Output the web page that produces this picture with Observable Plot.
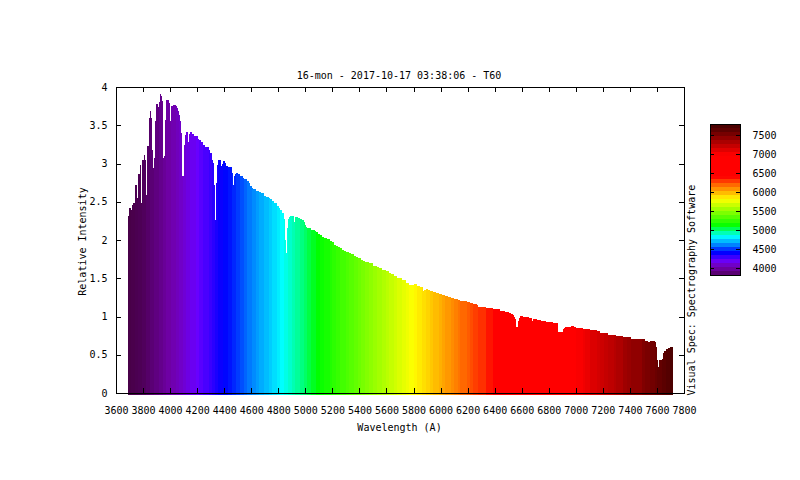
<!DOCTYPE html>
<html>
<head>
<meta charset="utf-8">
<script src="https://cdn.jsdelivr.net/npm/d3@7"></script>
<script src="https://cdn.jsdelivr.net/npm/@observablehq/plot@0.6"></script>
<style>
html,body{margin:0;padding:0;background:#fff;}
#wrap{position:relative;width:800px;height:480px;overflow:hidden;}
#wrap svg{position:absolute;overflow:visible;background:transparent;}
</style>
</head>
<body>
<div id="wrap"></div>
<script>
const titleText = "16-mon - 2017-10-17 03:38:06 - T60";
const xLabel = "Wavelength (A)";
const yLabel = "Relative Intensity";
const sideLabel = "Visual Spec: Spectrography Software";
const xTicks = [3600,3800,4000,4200,4400,4600,4800,5000,5200,5400,5600,5800,6000,6200,6400,6600,6800,7000,7200,7400,7600,7800];
const yTicks = [0,0.5,1,1.5,2,2.5,3,3.5,4];
const barTicks = [4000,4500,5000,5500,6000,6500,7000,7500];
const paletteStops = [3690,3800,4000,4100,4200,4400,4450,4600,4830,5000,5100,5800,6000,6200,6400,7000,7715];
const paletteColors = ["#480048","#4e0058","#7000a8","#7000d0","#6800ff","#0000ff","#0018ff","#0080ff","#00ffff","#00ff70","#00ff00","#ffff00","#ffb000","#ff6000","#ff0000","#ff0000","#4b0000"];

const wavelengths = [
3689,3696,3711,3719,3726,3741,3756,3763,3778,3785,
3793,3807,3815,3822,3829,3844,3852,3859,3866,3874,
3881,3889,3896,3911,3918,3926,3933,3940,3948,3955,
3963,3970,3992,4000,4007,4022,4044,4051,4059,4066,
4074,4081,4088,4096,4103,4110,4118,4133,4140,4148,
4162,4177,4192,4207,4214,4229,4244,4258,4288,4295,
4310,4318,4325,4332,4340,4347,4354,4377,4384,4392,
4406,4414,4429,4458,4466,4473,4480,4488,4503,4517,
4539,4547,4569,4584,4591,4606,4613,4635,4658,4672,
4695,4709,4732,4739,4754,4769,4791,4806,4813,4828,
4843,4850,4857,4865,4872,4880,4887,4902,4917,4924,
4946,4962,4977,4991,4999,5006,5014,5043,5073,5080,
5095,5110,5125,5139,5162,5184,5199,5213,5228,5243,
5258,5273,5287,5302,5324,5339,5361,5376,5391,5413,
5428,5443,5472,5502,5531,5546,5568,5598,5620,5635,
5657,5679,5716,5746,5768,5805,5827,5849,5865,5872,
5880,5894,5909,5924,5946,5968,5990,6013,6035,6057,
6079,6101,6131,6146,6198,6220,6242,6272,6279,6338,
6390,6442,6479,6508,6523,6538,6545,6553,6560,6567,
6575,6582,6590,6612,6656,6678,6686,6715,6745,6782,
6834,6863,6871,6900,6908,6915,6923,6967,6974,6989,
7004,7056,7070,7107,7159,7181,7211,7236,7280,7300,
7351,7381,7411,7490,7514,7536,7546,7588,7596,7603,
7610,7618,7640,7647,7655,7670,7684,7699];
const intensities = [
2.308,2.417,2.395,2.461,2.483,2.723,2.548,2.862,2.984,2.483,
3.05,3.115,3.05,2.592,3.233,3.595,3.691,3.595,3.181,2.941,
3.072,3.552,3.783,3.739,3.8,3.914,3.888,3.813,3.072,3.102,
3.573,3.835,3.792,3.552,3.748,3.77,3.748,3.726,3.682,3.639,
3.552,3.399,2.832,2.84,3.237,3.377,3.408,3.281,3.386,3.408,
3.39,3.364,3.355,3.32,3.303,3.281,3.246,3.211,3.181,3.137,
3.05,3.006,2.723,2.256,2.744,2.984,3.05,2.963,2.998,3.037,
3.006,2.963,2.95,2.875,2.723,2.832,2.867,2.88,2.862,2.84,
2.81,2.797,2.766,2.744,2.71,2.679,2.666,2.635,2.622,2.614,
2.57,2.557,2.548,2.535,2.504,2.483,2.439,2.417,2.395,2.352,
2.275,2.003,1.83,2.155,2.275,2.3,2.32,2.32,2.232,2.3,
2.29,2.273,2.26,2.234,2.2,2.169,2.16,2.13,2.121,2.103,
2.081,2.06,2.038,2.025,2.007,1.981,1.968,1.937,1.924,1.907,
1.889,1.872,1.859,1.837,1.824,1.811,1.793,1.776,1.759,1.741,
1.719,1.706,1.693,1.663,1.65,1.628,1.61,1.593,1.571,1.553,
1.532,1.501,1.475,1.44,1.414,1.423,1.401,1.39,1.383,1.335,
1.348,1.361,1.348,1.335,1.322,1.309,1.30,1.287,1.274,1.257,
1.243,1.23,1.217,1.204,1.191,1.178,1.169,1.152,1.126,1.113,
1.10,1.078,1.065,1.047,1.034,1.017,1.0,0.964,0.864,0.868,
0.947,0.977,1.008,0.995,0.983,0.945,0.968,0.955,0.942,0.929,
0.92,0.912,0.798,0.798,0.842,0.855,0.864,0.872,0.881,0.864,
0.855,0.833,0.842,0.824,0.816,0.785,0.79,0.763,0.755,0.746,
0.737,0.728,0.707,0.707,0.68,0.663,0.676,0.672,0.606,0.432,
0.345,0.432,0.44,0.519,0.554,0.58,0.589,0.602];
const spectrumEnd = 7715;
const colorBand = 30;

const bins = wavelengths.map((w,i)=>{
  const next = i+1<wavelengths.length?wavelengths[i+1]:spectrumEnd;
  return {x1:w,x2:next,y:intensities[i],c:Math.round((w+next)/2/colorBand)*colorBand};
});
const font = "'DejaVu Sans Mono', monospace";
const colorOpts = {type:"linear",domain:paletteStops,range:paletteColors,interpolate:"rgb",clamp:true};
const W = 568, H = 306;

const main = Plot.plot({
  width:800,height:480,
  marginLeft:116,marginRight:116,marginTop:87,marginBottom:87,
  style:{fontFamily:font,fontSize:"10px",color:"#000",background:"transparent"},
  x:{domain:[3600,7800]},
  y:{domain:[0,4]},
  color:colorOpts,
  marks:[
    Plot.rectY(bins,{x1:"x1",x2:"x2",y1:0,y2:"y",fill:"c",insetBottom:-2,shapeRendering:"crispEdges"}),
    Plot.tickX(xTicks,{x:d=>d,insetTop:H-5,stroke:"#000",shapeRendering:"crispEdges"}),
    Plot.tickX(xTicks,{x:d=>d,insetBottom:H-5,stroke:"#000",shapeRendering:"crispEdges"}),
    Plot.tickY(yTicks,{y:d=>d,insetRight:W-5,stroke:"#000",shapeRendering:"crispEdges"}),
    Plot.tickY(yTicks,{y:d=>d,insetLeft:W-5,stroke:"#000",shapeRendering:"crispEdges"}),
    Plot.axisX({ticks:xTicks,tickSize:0,tickPadding:13,tickFormat:d=>String(d),label:null,fontSize:10}),
    Plot.axisY({ticks:yTicks,tickSize:0,tickPadding:9,tickFormat:d=>String(d),label:null,fontSize:10}),
    Plot.frame({stroke:"#000",shapeRendering:"crispEdges"}),
    Plot.text([titleText],{frameAnchor:"top",dx:-1.5,dy:-15.5,fontSize:10,fill:"#000"}),
    Plot.text([xLabel],{frameAnchor:"bottom",dx:-1,dy:37,fontSize:10,fill:"#000"}),
    Plot.text([yLabel],{frameAnchor:"left",textAnchor:"middle",dx:-34,dy:1,rotate:-90,fontSize:10,fill:"#000"}),
    Plot.text([sideLabel],{frameAnchor:"bottom-right",dx:10,dy:2,rotate:-90,textAnchor:"start",fontSize:10,fill:"#000"})
  ]
});
main.style.left="0px";main.style.top="0px";

const barEdges = d3.range(3816,7800,105).map(v=>({y1:v,y2:Math.min(v+105,7800)}));
const barW = 30, barH = 151;
const bar = Plot.plot({
  width:80,height:barH+2,
  marginLeft:1,marginRight:49,marginTop:1,marginBottom:1,
  style:{fontFamily:font,fontSize:"10px",color:"#000",background:"transparent"},
  x:{axis:null,domain:[0,1]},
  y:{domain:[3816,7800]},
  color:colorOpts,
  marks:[
    Plot.rectY(barEdges,{x1:0,x2:1,y1:"y1",y2:"y2",fill:d=>(d.y1+d.y2)/2,shapeRendering:"crispEdges"}),
    Plot.tickY(barTicks,{y:d=>d,insetRight:barW-4,stroke:"#000",shapeRendering:"crispEdges"}),
    Plot.tickY(barTicks,{y:d=>d,insetLeft:barW-4,stroke:"#000",shapeRendering:"crispEdges"}),
    Plot.axisY({anchor:"right",ticks:barTicks,tickSize:0,tickPadding:12,tickFormat:d=>String(d),label:null,fontSize:10}),
    Plot.frame({stroke:"#000",shapeRendering:"crispEdges"})
  ]
});
bar.style.left="709px";bar.style.top="123px";

const wrap=document.getElementById("wrap");
wrap.appendChild(main);wrap.appendChild(bar);
</script>
</body>
</html>
